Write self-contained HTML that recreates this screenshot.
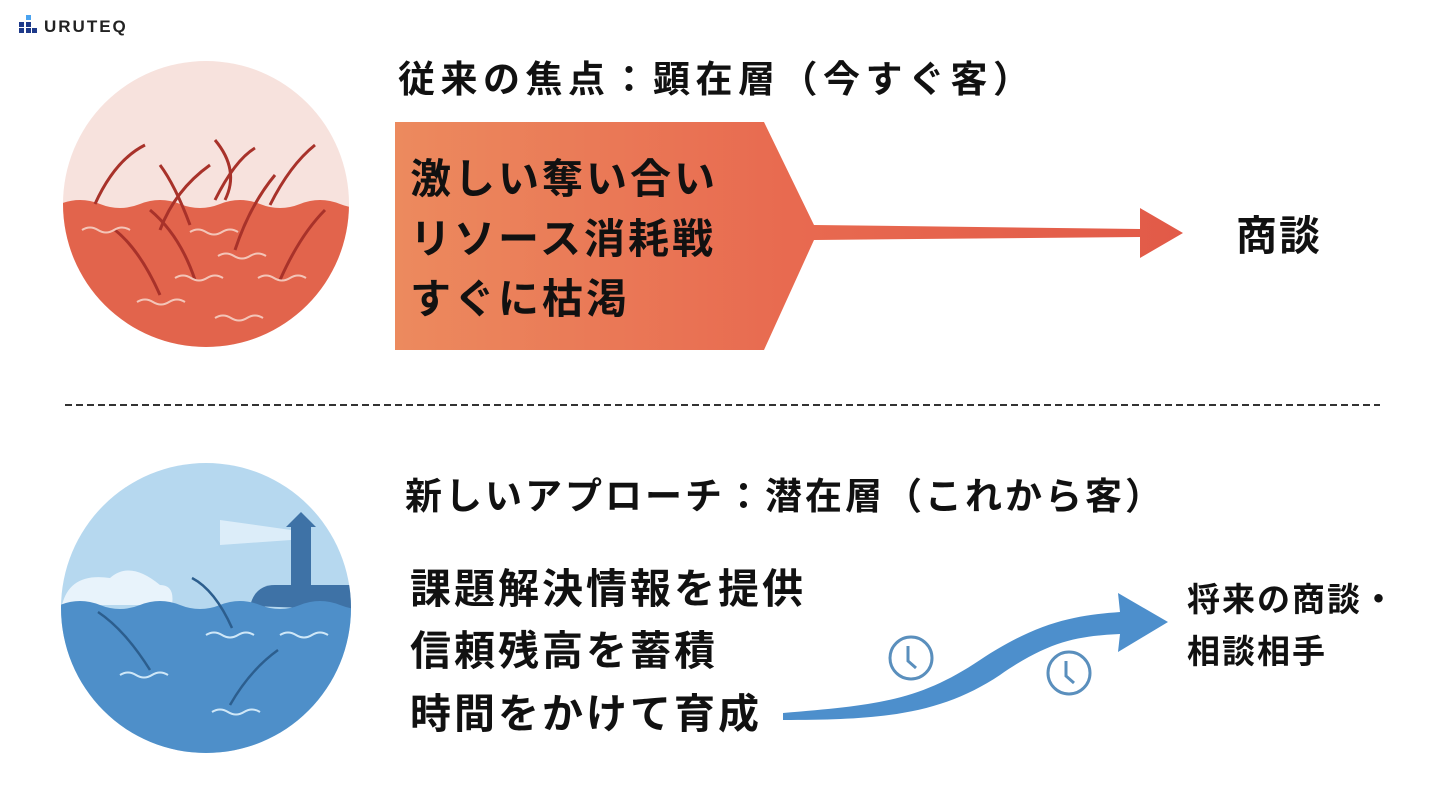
<!DOCTYPE html>
<html><head><meta charset="utf-8"><style>
body{margin:0;width:1440px;height:810px;background:#fff;overflow:hidden;position:relative;font-family:"Liberation Sans","Noto Sans CJK JP",sans-serif;color:#111;}
.t{position:absolute;font-weight:bold;white-space:nowrap;line-height:1;}
</style></head><body>
<svg width="1440" height="810" style="position:absolute;left:0;top:0">
<defs>
<clipPath id="c1"><circle cx="206" cy="204" r="143"/></clipPath>
<clipPath id="c2"><circle cx="206" cy="608" r="145"/></clipPath>
<linearGradient id="og" x1="0" x2="1"><stop offset="0" stop-color="#ec8a5e"/><stop offset="0.5" stop-color="#e86a50"/><stop offset="1" stop-color="#e25a48"/></linearGradient>
</defs>
<rect x="26" y="15" width="5" height="5" fill="#4aa3f0"/>
<rect x="19" y="22" width="5" height="5" fill="#1e3a8a"/><rect x="26" y="22" width="5" height="5" fill="#1e3a8a"/>
<rect x="19" y="28" width="5" height="5" fill="#1e3a8a"/><rect x="26" y="28" width="5" height="5" fill="#1e3a8a"/><rect x="32" y="28" width="5" height="5" fill="#1e3a8a"/>
<text x="44" y="32" font-family="Liberation Sans" font-size="17" font-weight="bold" letter-spacing="2" fill="#222">URUTEQ</text>
<g clip-path="url(#c1)">
<rect x="60" y="60" width="300" height="300" fill="#f7e2dd"/>
<path d="M60 204 Q80 196 100 204 T140 204 T180 204 T220 204 T260 204 T300 204 T340 204 T380 204 V360 H60Z" fill="#e2644c"/>
<g stroke="#a8322a" stroke-width="3" fill="none">
<path d="M95 204 Q115 160 145 145"/><path d="M160 230 Q175 190 210 165"/><path d="M190 225 Q175 185 160 165"/>
<path d="M215 200 Q235 160 255 148"/><path d="M235 250 Q250 205 275 175"/><path d="M270 205 Q290 165 315 145"/>
<path d="M160 295 Q140 250 115 230"/><path d="M195 280 Q180 235 150 210"/><path d="M280 280 Q300 235 325 210"/>
<path d="M225 200 Q240 170 215 140"/>
</g>
<g stroke="#f3c5b8" stroke-width="2" fill="none">
<path d="M82 230 q8-5 16 0 t16 0 t16 0"/><path d="M190 232 q8-5 16 0 t16 0 t16 0"/><path d="M218 256 q8-5 16 0 t16 0 t16 0"/>
<path d="M175 278 q8-5 16 0 t16 0 t16 0"/><path d="M258 278 q8-5 16 0 t16 0 t16 0"/><path d="M137 302 q8-5 16 0 t16 0 t16 0"/><path d="M215 318 q8-5 16 0 t16 0 t16 0"/>
</g>
</g>
<g clip-path="url(#c2)">
<rect x="60" y="460" width="300" height="300" fill="#b6d8ef"/>
<path d="M62 605 Q70 572 110 578 Q130 560 160 585 Q175 585 172 605Z" fill="#e8f3fb"/>
<path d="M250 606 Q255 585 275 585 H360 V610Z" fill="#3e72a6"/>
<rect x="291" y="525" width="20" height="62" fill="#3e72a6"/>
<path d="M286 527 L301 512 L316 527Z" fill="#3e72a6"/>
<path d="M220 520 L291 530 L291 540 L220 545Z" fill="#e6f2fb" opacity="0.8"/>
<path d="M60 605 Q80 597 100 605 T140 605 T180 605 T220 605 T260 605 T300 605 T340 605 T380 605 V760 H60Z" fill="#4e8fc9"/>
<g stroke="#2c5e8e" stroke-width="2.5" fill="none">
<path d="M98 612 Q125 630 150 670"/><path d="M192 578 Q215 590 232 628"/><path d="M278 650 Q250 670 230 705"/>
</g>
<g stroke="#cfe7f7" stroke-width="2" fill="none">
<path d="M120 675 q8-5 16 0 t16 0 t16 0"/><path d="M206 635 q8-5 16 0 t16 0 t16 0"/><path d="M280 635 q8-5 16 0 t16 0 t16 0"/><path d="M212 712 q8-5 16 0 t16 0 t16 0"/>
</g>
</g>
<path d="M395 122 H764 L814 225 L1140 229 V208 L1183 233 L1140 258 V237 L814 240 L764 350 H395Z" fill="url(#og)"/>
<line x1="65" y1="405" x2="1380" y2="405" stroke="#333" stroke-width="2" stroke-dasharray="7,4"/>
<path d="M783 713 C880 705 920 700 980 660 C1040 620 1080 615 1120 612 L1118 593 L1168 622 L1118 652 L1120 634 C1080 636 1050 640 1000 675 C940 715 880 720 783 720Z" fill="#4d8fcc"/>
<g stroke="#5a8fbd" stroke-width="3" fill="none">
<circle cx="911" cy="658" r="21"/><path d="M908 646 V661 L916 668"/>
<circle cx="1069" cy="673" r="21"/><path d="M1066 661 V676 L1074 683"/>
</g>
</svg>
<div class="t" style="left:398px;top:61px;font-size:37px;letter-spacing:5.5px;">従来の焦点：顕在層（今すぐ客）</div>
<div class="t" style="left:410px;top:159px;font-size:41px;letter-spacing:3px;">激しい奪い合い</div>
<div class="t" style="left:410px;top:219px;font-size:41px;letter-spacing:3px;">リソース消耗戦</div>
<div class="t" style="left:410px;top:279px;font-size:41px;letter-spacing:3px;">すぐに枯渇</div>
<div class="t" style="left:1236px;top:216px;font-size:41px;letter-spacing:2px;">商談</div>
<div class="t" style="left:405px;top:478px;font-size:37px;letter-spacing:3px;">新しいアプローチ：潜在層（これから客）</div>
<div class="t" style="left:410px;top:569px;font-size:41px;letter-spacing:3px;">課題解決情報を提供</div>
<div class="t" style="left:410px;top:631px;font-size:41px;letter-spacing:3px;">信頼残高を蓄積</div>
<div class="t" style="left:410px;top:694px;font-size:41px;letter-spacing:3px;">時間をかけて育成</div>
<div class="t" style="left:1187px;top:583px;font-size:33px;letter-spacing:2px;">将来の商談・</div>
<div class="t" style="left:1187px;top:635px;font-size:33px;letter-spacing:2px;">相談相手</div>
</body></html>
